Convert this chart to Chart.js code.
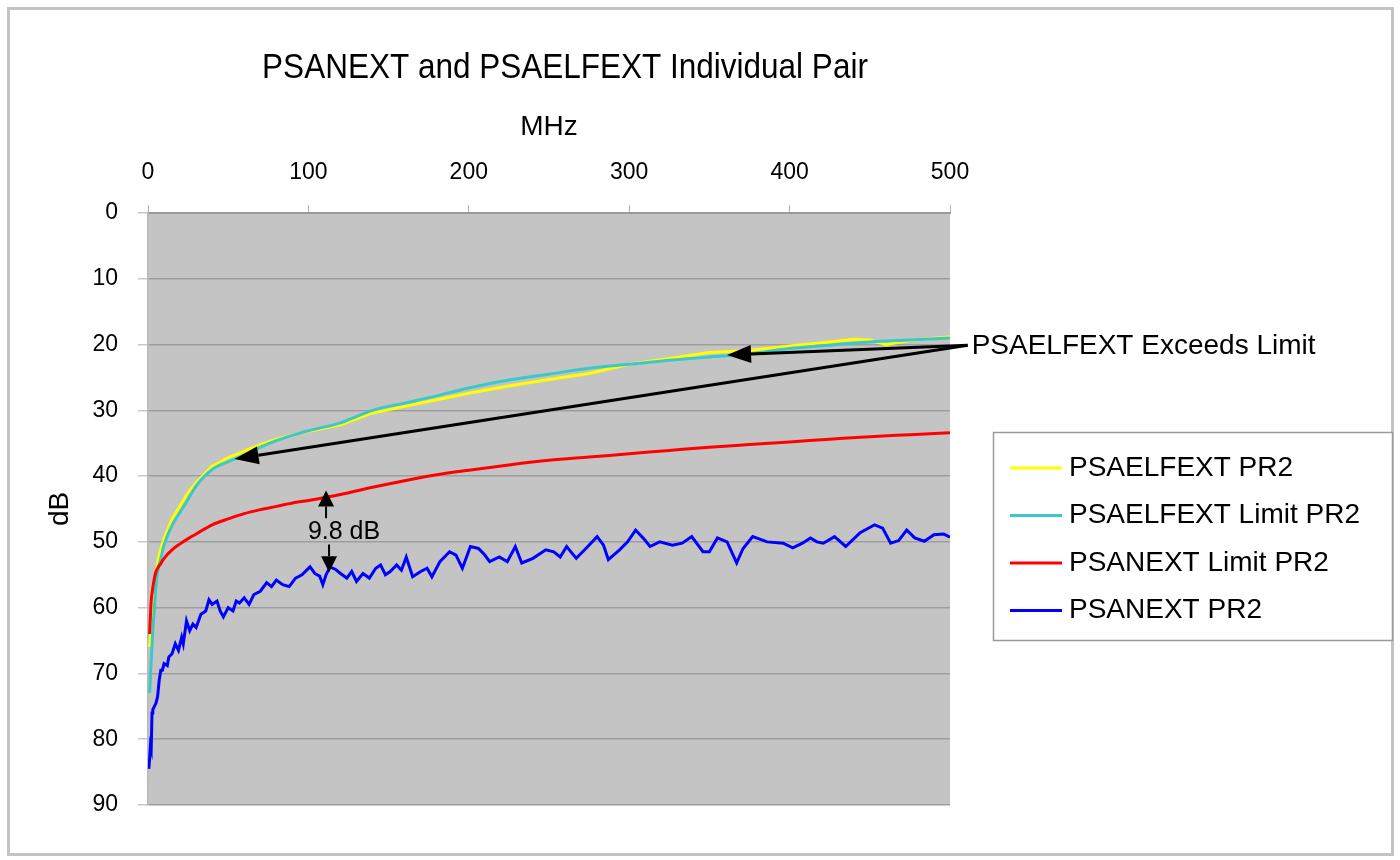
<!DOCTYPE html>
<html>
<head>
<meta charset="utf-8">
<script src="https://cdn.jsdelivr.net/npm/chart.js@4.4.1/dist/chart.umd.min.js"></script>
<style>
  html, body { margin: 0; padding: 0; background: #fff; }
  #wrap { width: 1400px; height: 860px; }
</style>
</head>
<body>
<div id="wrap"><canvas id="chart" width="1400" height="860"></canvas></div>
<script>
const FONT = '"Liberation Sans", Arial, sans-serif';

// limit curves (MHz / dB)
const limitFreqs = [1, 2, 3, 4, 5, 6, 8, 10, 15, 20, 25, 30, 40, 50, 60, 70, 80, 90, 100,
  120, 140, 160, 180, 200, 225, 250, 275, 300, 325, 350, 375, 400, 425, 450, 475, 500];
const elfextLimitDb = [73, 68, 63.5, 60, 56.5, 54.5, 52.5, 50.5, 47.5, 45.5, 43.5, 41.5, 39, 37.8, 36.8, 35.6, 34.6, 33.8, 33.1,
  31.9, 30.0, 28.9, 27.8, 26.6, 25.4, 24.5, 23.6, 23.0, 22.4, 21.9, 21.4, 20.6, 20.1, 19.6, 19.3, 19.0];
const anextLimitDb = [64, 59, 57, 55.5, 54.5, 54, 53.3, 52.5, 51.2, 50.3, 49.5, 48.8, 47.4, 46.5, 45.7, 45.1, 44.6, 44.1, 43.7,
  42.8, 41.7, 40.7, 39.8, 39.1, 38.3, 37.6, 37.1, 36.6, 36.1, 35.6, 35.2, 34.8, 34.4, 34.0, 33.7, 33.4];

// measured PSAELFEXT
const elfextFreqs = [1, 2, 3, 4, 5, 6, 8, 10, 15, 20, 25, 30, 40, 50, 60, 70, 80, 90, 100,
  120, 140, 160, 180, 200, 225, 250, 275, 300, 325, 350, 375, 400, 425, 440, 450, 460, 475, 500];
const elfextDb = [66, 63, 60, 57, 54.5, 53, 51, 49.5, 46.5, 44.5, 42.5, 41, 38.5, 37.2, 36.2, 35.2, 34.4, 33.8, 33.2,
  32.2, 30.4, 29.4, 28.4, 27.4, 26.3, 25.3, 24.4, 23.0, 22.1, 21.2, 20.9, 20.2, 19.6, 19.2, 19.3, 20.0, 19.4, 18.8];

// measured PSANEXT
const anextFreqs = [0.5, 1, 1.5, 2, 2.5, 3, 4, 5, 6, 7, 8, 9, 10, 12, 13, 15, 17, 19, 21, 22, 24, 26, 28, 30,
  33, 36, 38, 40, 43, 45, 47, 50, 53, 55, 57, 60, 63, 66, 70, 74, 77, 80, 84, 88, 92, 96,
  101, 104, 107, 109, 111, 113.5, 117, 120, 124, 127, 130, 134, 138, 142, 145, 148, 151, 155, 158,
  161, 165, 170, 174, 177, 182, 188, 192, 196, 201, 206, 210, 213, 219, 224, 229, 233, 240, 248,
  253, 257, 261, 267, 273, 280, 284, 287, 294, 299, 304, 309, 313, 319, 327, 333, 339, 346, 350,
  355, 361, 367, 371, 377, 386, 396, 402, 408, 413, 417, 421, 428, 435, 444, 453, 458, 463, 468,
  473, 478, 484, 490, 496, 500];
const anextDb = [84.5, 83, 81, 81.5, 76, 75.5, 75, 74.5, 73.5, 71, 69.5, 69.5, 68.5, 68.8, 67.5, 67, 65.5, 66.5, 64.5, 65.5, 62, 63.5, 62.5, 63,
  61, 60.5, 58.8, 59.5, 59, 60.5, 61.4, 60, 60.5, 59, 59.3, 58.5, 59.5, 58, 57.5, 56.2, 56.8, 55.8, 56.5, 56.8, 55.5, 55,
  53.8, 54.8, 55.2, 56.5, 55, 53.8, 54.2, 54.8, 55.5, 54.5, 56, 54.8, 55.5, 54, 53.5, 55, 54.5, 53.5, 54.3,
  52.3, 55.3, 54.5, 54, 55.3, 53, 51.5, 52, 54, 50.7, 51, 52, 53, 52.3, 53, 50.7, 53.2, 52.5, 51.2,
  51.5, 52.3, 50.7, 52.5, 51, 49.2, 50.5, 52.7, 51.2, 50, 48.2, 49.5, 50.7, 50, 50.5, 50.2, 49.2, 51.5, 51.5,
  49.4, 50, 53.2, 51, 49.2, 50, 50.2, 50.9, 50.2, 49.4, 50, 50.2, 49.2, 50.7, 48.6, 47.4, 47.9, 50.2, 49.8,
  48.2, 49.4, 49.9, 48.9, 48.8, 49.3];

const xTicks = [0, 100, 200, 300, 400, 500];
const yTicks = [0, 10, 20, 30, 40, 50, 60, 70, 80, 90];

// annotation anchors, in MHz / dB
const noteOrigin = { x: 511, y: 20.1 };
const noteTips = [{ x: 361, y: 21.6 }, { x: 54, y: 37.4 }];
const gapFreq = 111;
const gapUp = [46.4, 42.2];
const gapDown = [50.4, 54.6];

function hasFont(name) {
  const c = document.createElement('canvas').getContext('2d');
  const t = 'PSANEXT 0123456789';
  c.font = '40px monospace';
  const a = c.measureText(t).width;
  c.font = '40px "' + name + '", monospace';
  return c.measureText(t).width !== a;
}

// tick digits in the picture are condensed
const narrow = hasFont('Liberation Sans Narrow');
const tickFont = narrow
  ? { family: '"Liberation Sans Narrow", ' + FONT, size: 28 }
  : { family: FONT, size: 23 };

function xy(xs, ys) {
  return xs.map((x, i) => ({ x: x, y: ys[i] }));
}

function drawArrow(ctx, x0, y0, x1, y1, len, half) {
  const ang = Math.atan2(y1 - y0, x1 - x0);
  const bx = x1 - len * Math.cos(ang), by = y1 - len * Math.sin(ang);
  ctx.beginPath();
  ctx.moveTo(x0, y0);
  ctx.lineTo(bx, by);
  ctx.stroke();
  ctx.beginPath();
  ctx.moveTo(x1, y1);
  ctx.lineTo(bx + half * Math.sin(ang), by - half * Math.cos(ang));
  ctx.lineTo(bx - half * Math.sin(ang), by + half * Math.cos(ang));
  ctx.closePath();
  ctx.fill();
}

const decor = {
  id: 'decor',
  beforeDraw(chart) {
    const { ctx, chartArea: a } = chart;
    ctx.save();
    ctx.fillStyle = '#fff';
    ctx.fillRect(0, 0, chart.width, chart.height);
    ctx.strokeStyle = '#c4c4c4';
    ctx.lineWidth = 3;
    ctx.strokeRect(8.5, 8.5, 1384, 846);
    ctx.fillStyle = '#c4c4c4';
    ctx.fillRect(a.left, a.top, a.right - a.left, a.bottom - a.top);
    ctx.restore();
  },
  afterDraw(chart) {
    const { ctx } = chart;
    const xs = chart.scales.x, ys = chart.scales.y;
    ctx.save();
    ctx.fillStyle = '#000';
    ctx.textBaseline = 'middle';

    // title, slightly condensed like the original
    ctx.save();
    ctx.font = '35px ' + FONT;
    ctx.textAlign = 'center';
    ctx.translate(565, 68);
    ctx.scale(0.9, 1);
    ctx.fillText('PSANEXT and PSAELFEXT Individual Pair', 0, 0);
    ctx.restore();

    // exceeds-limit arrows
    ctx.strokeStyle = '#000';
    ctx.lineWidth = 3;
    const ox = xs.getPixelForValue(noteOrigin.x), oy = ys.getPixelForValue(noteOrigin.y);
    noteTips.forEach(t => {
      drawArrow(ctx, ox, oy, xs.getPixelForValue(t.x), ys.getPixelForValue(t.y), 24, 9);
    });
    ctx.font = '28px ' + FONT;
    ctx.textAlign = 'left';
    ctx.fillText('PSAELFEXT Exceeds Limit', ox + 4, oy + 1);

    // 9.8 dB gap
    ctx.lineWidth = 2;
    const gx = xs.getPixelForValue(gapFreq);
    drawArrow(ctx, gx, ys.getPixelForValue(gapUp[0]), gx, ys.getPixelForValue(gapUp[1]), 16, 8);
    drawArrow(ctx, gx + 3, ys.getPixelForValue(gapDown[0]), gx + 3, ys.getPixelForValue(gapDown[1]), 16, 8);
    ctx.font = '25px ' + FONT;
    ctx.textAlign = 'center';
    ctx.fillText('9.8 dB', gx + 18, ys.getPixelForValue(48.5));

    // legend
    const lx = 993, ly = 432, lw = 399, lh = 208;
    ctx.fillStyle = '#fff';
    ctx.fillRect(lx, ly, lw, lh);
    ctx.strokeStyle = '#9a9a9a';
    ctx.lineWidth = 1.5;
    ctx.strokeRect(lx + 0.5, ly + 0.5, lw, lh);
    ctx.font = '28px ' + FONT;
    ctx.textAlign = 'left';
    chart.data.datasets.forEach((ds, i) => {
      const y = 468 + i * 47.5;
      ctx.strokeStyle = ds.borderColor;
      ctx.lineWidth = 3;
      ctx.beginPath();
      ctx.moveTo(1010, y);
      ctx.lineTo(1062, y);
      ctx.stroke();
      ctx.fillStyle = '#000';
      ctx.fillText(ds.label, 1069, y);
    });
    ctx.restore();
  }
};

const ctx = document.getElementById('chart').getContext('2d');
new Chart(ctx, {
  type: 'line',
  data: {
    datasets: [
      { label: 'PSAELFEXT PR2', data: xy(elfextFreqs, elfextDb), borderColor: '#ffff00', order: 4 },
      { label: 'PSAELFEXT Limit PR2', data: xy(limitFreqs, elfextLimitDb), borderColor: '#3cc8c8', order: 3, cubicInterpolationMode: 'monotone' },
      { label: 'PSANEXT Limit PR2', data: xy(limitFreqs, anextLimitDb), borderColor: '#ff0000', order: 2, cubicInterpolationMode: 'monotone' },
      { label: 'PSANEXT PR2', data: xy(anextFreqs, anextDb), borderColor: '#0000ff', order: 1 }
    ]
  },
  options: {
    responsive: false,
    animation: false,
    devicePixelRatio: 1,
    layout: { padding: { left: 0, top: 0, right: 450, bottom: 55 } },
    elements: {
      point: { radius: 0 },
      line: { borderWidth: 3, tension: 0, fill: false }
    },
    plugins: {
      legend: { display: false },
      tooltip: { enabled: false },
      title: { display: false }
    },
    scales: {
      x: {
        type: 'linear',
        position: 'top',
        min: 0,
        max: 500,
        afterFit(scale) { scale.height = 213; },
        afterBuildTicks(scale) { scale.ticks = xTicks.map(v => ({ value: v })); },
        ticks: { font: tickFont, color: '#000', padding: 19, maxRotation: 0 },
        grid: { drawOnChartArea: false, drawTicks: true, tickLength: 8, tickColor: '#b4b4b4', color: '#b4b4b4' },
        border: { color: '#9a9a9a', width: 2 },
        title: { display: true, text: 'MHz', font: { family: FONT, size: 28 }, color: '#000', padding: { top: 110, bottom: 0 } }
      },
      y: {
        type: 'linear',
        reverse: true,
        min: 0,
        max: 90,
        afterFit(scale) { scale.width = 148; },
        afterBuildTicks(scale) { scale.ticks = yTicks.map(v => ({ value: v })); },
        ticks: { font: tickFont, color: '#000', padding: 20 },
        grid: { color: '#9e9e9e', lineWidth: 1.5, tickLength: 10, tickColor: '#c8c8c8' },
        border: { color: '#b8b8b8', width: 1.5 },
        title: { display: true, text: 'dB', font: { family: FONT, size: 28 }, color: '#000', padding: { top: 43, bottom: 0 } }
      }
    }
  },
  plugins: [decor]
});
</script>
</body>
</html>
